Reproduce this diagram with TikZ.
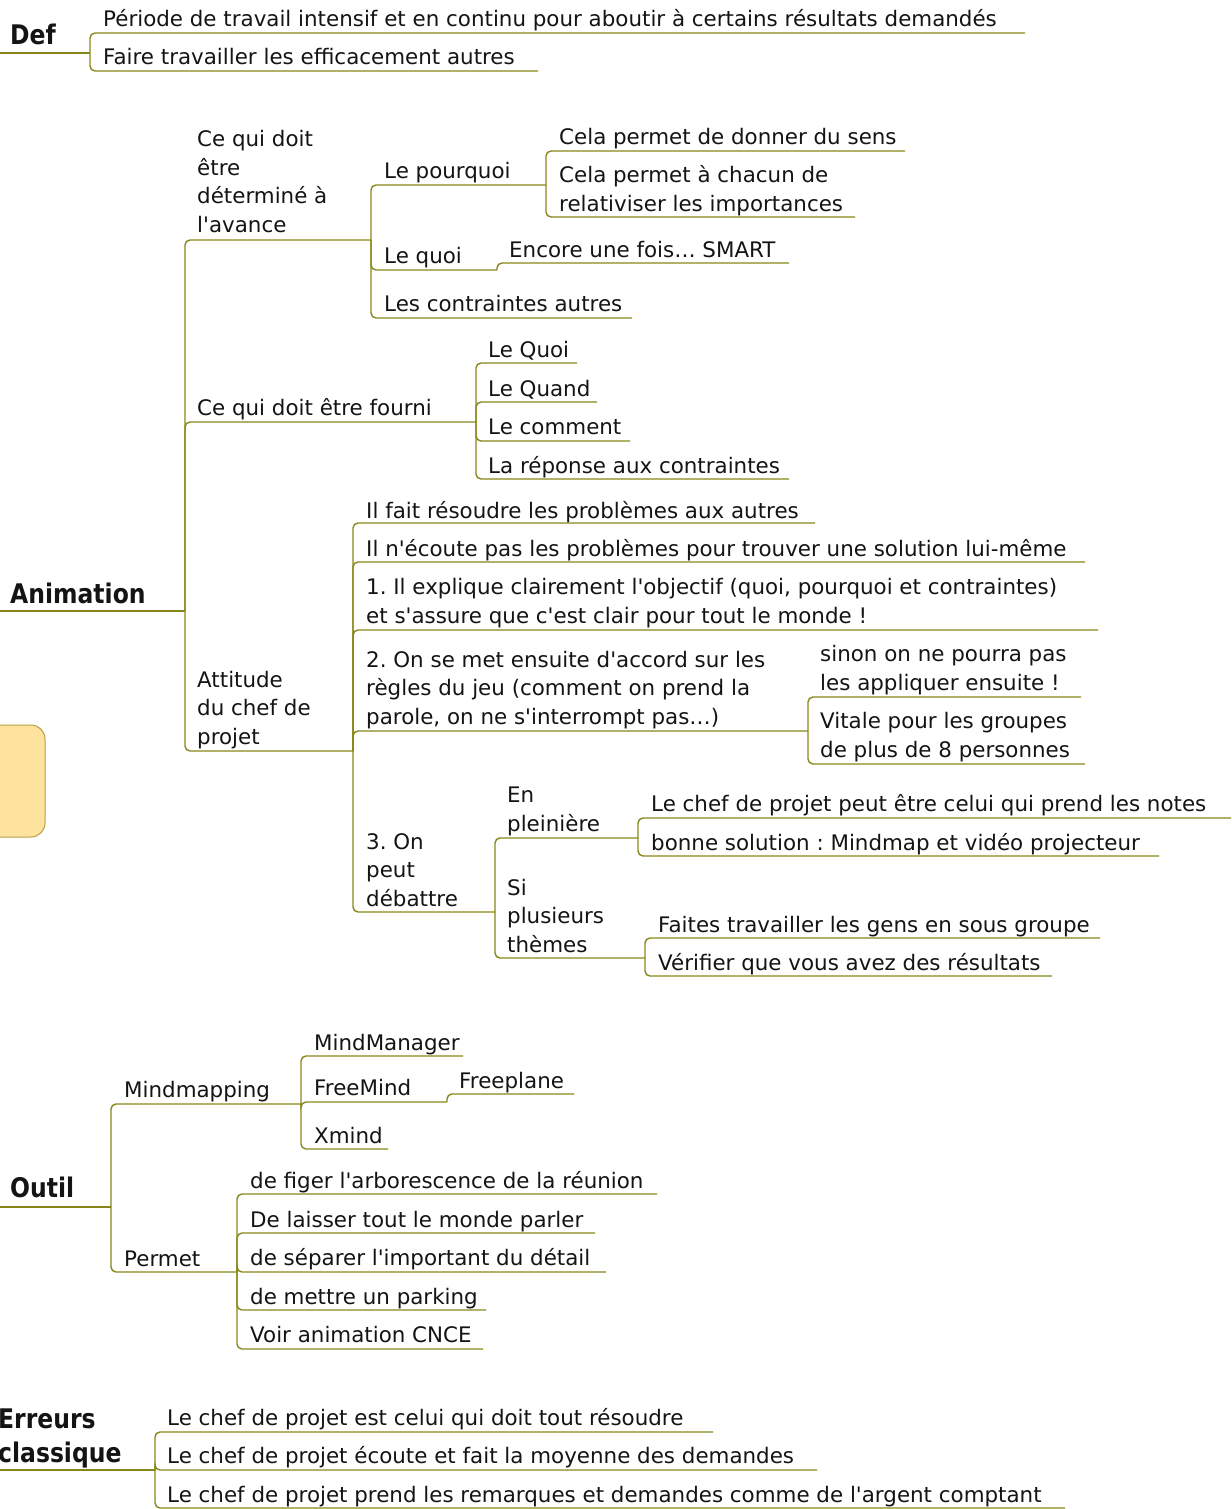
\documentclass[tikz,border=0pt]{standalone}
\usepackage{fontspec}
\setmainfont[Ligatures=TeXOff]{DejaVu Sans}
\newfontfamily\rootfont[FakeStretch=0.87,Ligatures=TeXOff]{DejaVu Sans}
\definecolor{edge}{RGB}{135,135,25}
\definecolor{ink}{RGB}{20,20,20}
\definecolor{boxfill}{RGB}{254,227,158}
\definecolor{boxline}{RGB}{185,160,70}
\frenchspacing
\begin{document}
\frenchspacing
\begin{tikzpicture}[x=1pt,y=-1pt,
  txt/.style={anchor=base west,inner sep=0pt,align=left,text=ink,font=\frenchspacing\fontsize{21.4}{28.5}\selectfont},
  rootnode/.style={anchor=base west,inner sep=0pt,align=left,text=ink,font=\rootfont\bfseries\fontsize{27}{34}\selectfont},
  conn/.style={draw=edge,line width=1.4pt,rounded corners=5pt}]
\useasboundingbox (0,0) rectangle (1231,1509);
% yellow box
\draw[fill=boxfill,draw=boxline,line width=1pt,rounded corners=14pt] (-20,725) rectangle (45,837);

% ---------- Def
\node[rootnode] (def) at (10,45) {Def};
\coordinate (def-l) at (0,53); \coordinate (def-r) at (90,53);
\node[txt] (d1) at (103,27) {Période de travail intensif et en continu pour aboutir à certains résultats demandés};
\coordinate (d1-r) at (1025,33);
\node[txt] (d2) at (103,65) {Faire travailler les efficacement autres};
\coordinate (d2-r) at (538,71);
\draw[conn] (def-l) -- (def-r);
\draw[conn] (def-r) |- (d1-r);
\draw[conn] (def-r) |- (d2-r);

% ---------- Animation
\node[rootnode] (anim) at (10,603) {Animation};
\coordinate (anim-l) at (0,611); \coordinate (anim-r) at (185,611);
\draw[conn] (anim-l) -- (anim-r);

\node[txt] (a1) at (197,232) {Ce qui doit\\être\\déterminé à\\l'avance};
\coordinate (a1-r) at (371,240);
\node[txt] (a11) at (384,178) {Le pourquoi}; \coordinate (a11-r) at (546,185);
\node[txt] (a111) at (559,144) {Cela permet de donner du sens}; \coordinate (a111-r) at (905,151);
\node[txt] (a112) at (559,211) {Cela permet à chacun de\\relativiser les importances}; \coordinate (a112-r) at (855,217);
\node[txt] (a12) at (384,263) {Le quoi}; \coordinate (a12-r) at (497,270);
\node[txt] (a121) at (509,257) {Encore une fois… SMART}; \coordinate (a121-r) at (789,263);
\node[txt] (a13) at (384,311) {Les contraintes autres}; \coordinate (a13-r) at (632,318);

\node[txt] (a2) at (197,415) {Ce qui doit être fourni}; \coordinate (a2-r) at (476,422);
\node[txt] (a21) at (488,357) {Le Quoi}; \coordinate (a21-r) at (577,363);
\node[txt] (a22) at (488,396) {Le Quand}; \coordinate (a22-r) at (597,402);
\node[txt] (a23) at (488,434) {Le comment}; \coordinate (a23-r) at (630,441);
\node[txt] (a24) at (488,473) {La réponse aux contraintes}; \coordinate (a24-r) at (789,479);

\node[txt] (a3) at (197,744) {Attitude\\du chef de\\projet}; \coordinate (a3-r) at (353,751);
\node[txt] (a31) at (366,518) {Il fait résoudre les problèmes aux autres}; \coordinate (a31-r) at (815,523);
\node[txt] (a32) at (366,556) {Il n'écoute pas les problèmes pour trouver une solution lui-même}; \coordinate (a32-r) at (1085,562);
\node[txt] (a33) at (366,623) {1. Il explique clairement l'objectif (quoi, pourquoi et contraintes)\\et s'assure que c'est clair pour tout le monde !}; \coordinate (a33-r) at (1098,630);
\node[txt] (a34) at (366,724) {2. On se met ensuite d'accord sur les\\règles du jeu (comment on prend la\\parole, on ne s'interrompt pas…)}; \coordinate (a34-r) at (808,731);
\node[txt] (a341) at (820,690) {sinon on ne pourra pas\\les appliquer ensuite !}; \coordinate (a341-r) at (1081,697);
\node[txt] (a342) at (820,757) {Vitale pour les groupes\\de plus de 8 personnes}; \coordinate (a342-r) at (1085,764);
\node[txt] (a35) at (366,906) {3. On\\peut\\débattre}; \coordinate (a35-r) at (495,912);
\node[txt] (a351) at (507,831) {En\\pleinière}; \coordinate (a351-r) at (638,838);
\node[txt] (a3511) at (651,811) {Le chef de projet peut être celui qui prend les notes}; \coordinate (a3511-r) at (1231,818);
\node[txt] (a3512) at (651,850) {bonne solution : Mindmap et vidéo projecteur}; \coordinate (a3512-r) at (1159,856);
\node[txt] (a352) at (507,952) {Si\\plusieurs\\thèmes}; \coordinate (a352-r) at (645,958);
\node[txt] (a3521) at (658,932) {Faites travailler les gens en sous groupe}; \coordinate (a3521-r) at (1100,938);
\node[txt] (a3522) at (658,970) {Vérifier que vous avez des résultats}; \coordinate (a3522-r) at (1052,976);

\foreach \p/\c in {anim/a1,anim/a2,anim/a3,a1/a11,a1/a12,a1/a13,a11/a111,a11/a112,a12/a121,
  a2/a21,a2/a22,a2/a23,a2/a24,a3/a31,a3/a32,a3/a33,a3/a34,a3/a35,a34/a341,a34/a342,
  a35/a351,a35/a352,a351/a3511,a351/a3512,a352/a3521,a352/a3522}
  \draw[conn] (\p-r) |- (\c-r);

% ---------- Outil
\node[rootnode] (out) at (10,1197) {Outil};
\coordinate (out-l) at (0,1207); \coordinate (out-r) at (111,1207);
\draw[conn] (out-l) -- (out-r);
\node[txt] (o1) at (124,1097) {Mindmapping}; \coordinate (o1-r) at (301,1104);
\node[txt] (o11) at (314,1050) {MindManager}; \coordinate (o11-r) at (463,1056);
\node[txt] (o12) at (314,1095) {FreeMind}; \coordinate (o12-r) at (447,1102);
\node[txt] (o121) at (459,1088) {Freeplane}; \coordinate (o121-r) at (574,1094);
\node[txt] (o13) at (314,1143) {Xmind}; \coordinate (o13-r) at (388,1149);
\node[txt] (o2) at (124,1266) {Permet}; \coordinate (o2-r) at (237,1272);
\node[txt] (o21) at (250,1188) {de figer l'arborescence de la réunion}; \coordinate (o21-r) at (657,1194);
\node[txt] (o22) at (250,1227) {De laisser tout le monde parler}; \coordinate (o22-r) at (595,1233);
\node[txt] (o23) at (250,1265) {de séparer l'important du détail}; \coordinate (o23-r) at (606,1272);
\node[txt] (o24) at (250,1304) {de mettre un parking}; \coordinate (o24-r) at (486,1310);
\node[txt] (o25) at (250,1342) {Voir animation CNCE}; \coordinate (o25-r) at (483,1349);
\foreach \p/\c in {out/o1,out/o2,o1/o11,o1/o12,o1/o13,o12/o121,o2/o21,o2/o22,o2/o23,o2/o24,o2/o25}
  \draw[conn] (\p-r) |- (\c-r);

% ---------- Erreurs
\node[rootnode] (err) at (-2,1462) {Erreurs\\classique};
\coordinate (err-l) at (0,1470); \coordinate (err-r) at (155,1470);
\draw[conn] (err-l) -- (err-r);
\node[txt] (e1) at (167,1425) {Le chef de projet est celui qui doit tout résoudre}; \coordinate (e1-r) at (713,1432);
\node[txt] (e2) at (167,1463) {Le chef de projet écoute et fait la moyenne des demandes}; \coordinate (e2-r) at (817,1470);
\node[txt] (e3) at (167,1502) {Le chef de projet prend les remarques et demandes comme de l'argent comptant}; \coordinate (e3-r) at (1065,1508);
\foreach \p/\c in {err/e1,err/e2,err/e3}
  \draw[conn] (\p-r) |- (\c-r);
\end{tikzpicture}
\end{document}
